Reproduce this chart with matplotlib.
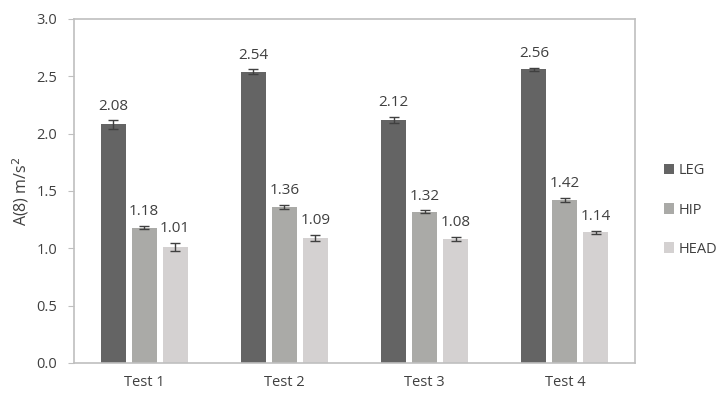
import matplotlib.pyplot as plt
import numpy as np

plt.rcParams['font.family'] = ['Open Sans', 'DejaVu Sans']

tests = ['Test 1', 'Test 2', 'Test 3', 'Test 4']
series = ['LEG', 'HIP', 'HEAD']
leg = [2.08, 2.54, 2.12, 2.56]
hip = [1.18, 1.36, 1.32, 1.42]
head = [1.01, 1.09, 1.08, 1.14]
leg_err = [0.035, 0.02, 0.025, 0.01]
hip_err = [0.015, 0.02, 0.01, 0.02]
head_err = [0.035, 0.025, 0.015, 0.015]
colors = ['#646464', '#aaaaa7', '#d4d1d1']

fig = plt.figure(figsize=(7.21, 3.99), dpi=100)
ax = fig.add_axes([74 / 721, 1 - 363 / 399, (635 - 74) / 721, (363 - 19) / 399])

x = np.arange(len(tests))
width = 0.178
step = 0.221
frame = '#bfbfbf'
text_col = '#404040'

for i, (vals, errs) in enumerate(zip([leg, hip, head], [leg_err, hip_err, head_err])):
    pos = x + (i - 1) * step
    ax.bar(pos, vals, width, color=colors[i], label=series[i], zorder=2)
    ax.errorbar(pos, vals, yerr=errs, fmt='none', ecolor='#404040',
                elinewidth=1, capsize=3.5, capthick=1, zorder=3)
    for p, v, e in zip(pos, vals, errs):
        ax.annotate(f'{v:.2f}', (p, v + e), xytext=(0, 5), textcoords='offset points',
                    ha='center', va='bottom', fontsize=11, color=text_col)

ax.set_xlim(-0.5, 3.5)
ax.set_ylim(0, 3.0)
ax.set_yticks(np.arange(0, 3.01, 0.5))
ax.set_yticklabels([f'{t:.1f}' for t in np.arange(0, 3.01, 0.5)])
ax.set_xticks(x)
ax.set_xticklabels(tests)
for s in ax.spines.values():
    s.set_color(frame)
    s.set_linewidth(1.2)
ax.tick_params(axis='y', colors=frame, labelcolor=text_col, labelsize=10.5, length=4, pad=8)
ax.tick_params(axis='x', length=0, labelcolor=text_col, labelsize=10.5, pad=9)
ax.set_ylabel('A(8) m/s$^2$', fontsize=11.5, color=text_col, labelpad=4)

fig.legend(loc='center left', bbox_to_anchor=(651 / 721, 1 - 210 / 399), frameon=False,
           fontsize=10.5, labelcolor=text_col, handlelength=0.7, handleheight=0.7,
           handletextpad=0.3, labelspacing=1.65)

fig.savefig('out.png', dpi=100)
